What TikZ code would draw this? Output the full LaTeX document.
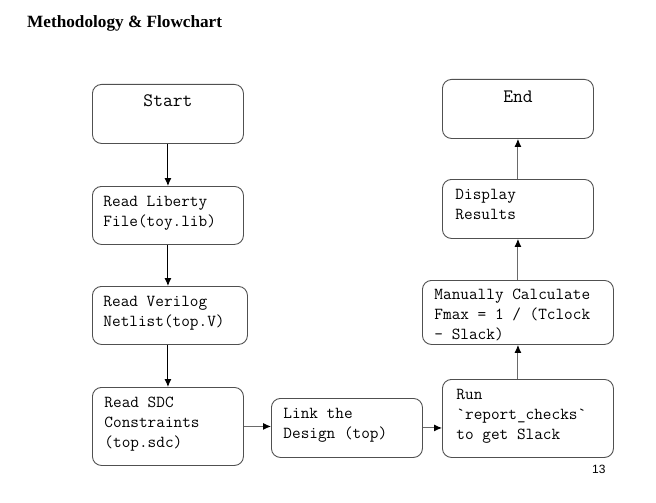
\documentclass[tikz,border=0pt]{standalone}
\usepackage{xcolor}
\usepackage{fontspec}
\setmainfont{Liberation Serif}
\newfontfamily\pagefont{Liberation Sans}
\usepackage{tikz}
\usetikzlibrary{shapes,arrows.meta}

\definecolor{boxgray}{HTML}{505050}
\definecolor{linegray}{HTML}{6A6A6A}

\tikzset{
  stepbox/.style={rectangle, draw=boxgray, line width=0.9pt, rounded corners=9pt, anchor=north west, inner ysep=0pt, align=flush left, font=\ttfamily\fontsize{16.8}{20}\selectfont},
  endbox/.style={stepbox, inner xsep=0pt, align=center, font=\ttfamily\fontsize{19}{20}\selectfont},
  flow/.style={line width=1pt, -{Latex[length=8pt,width=7pt,color=black]}}
}

\begin{document}
\begin{tikzpicture}[x=1pt, y=-1pt]
\useasboundingbox (0,0) rectangle (656,503);

\node (title) [anchor=base west, inner sep=0pt, font=\bfseries\fontsize{17.2}{20}\selectfont] at (27,28) {Methodology \& Flowchart};

\node (start) [endbox, text width=151pt, text height=22pt, text depth=37pt] at (92,84) {Start};
\node (lib) [stepbox, inner xsep=11pt, text width=129pt, text height=20pt, text depth=38pt] at (92,186) {Read Liberty\\File(toy.lib)};
\node (ver) [stepbox, inner xsep=11pt, text width=133pt, text height=20pt, text depth=38pt] at (92,286) {Read Verilog\\Netlist(top.V)};
\node (sdc) [stepbox, inner xsep=12pt, text width=127pt, text height=20pt, text depth=58pt] at (92,387) {Read SDC\\Constraints\\(top.sdc)};
\node (link) [stepbox, inner xsep=12pt, text width=127pt, text height=20pt, text depth=39pt] at (271,398) {Link the\\Design (top)};
\node (run) [stepbox, inner xsep=14pt, text width=143pt, text height=20pt, text depth=58pt] at (442,379) {Run\\`report\_checks`\\to get Slack};
\node (calc) [stepbox, inner xsep=12pt, text width=167pt, text height=19pt, text depth=45pt] at (422,280) {Manually Calculate\\Fmax = 1 / (Tclock\\- Slack)};
\node (disp) [stepbox, inner xsep=13pt, text width=125pt, text height=20pt, text depth=39pt] at (442,179) {Display\\Results};
\node (end) [endbox, text width=151pt, text height=23pt, text depth=36pt] at (442,79) {End};

\node (page) [anchor=base west, inner sep=0pt, font=\pagefont\fontsize{12}{14}\selectfont] at (592,473) {13};

\draw [flow] (start) -- (lib);
\draw [flow] (lib) -- (lib |- ver.north);
\draw [flow] (ver.south -| lib) -- (sdc);
\draw [flow, linegray] (sdc) -- (sdc -| link.west);
\draw [flow, linegray] (link) -- (link -| run.west);
\draw [flow, linegray] (calc |- run.north) -- (calc);
\draw [flow, linegray] (calc) -- (disp);
\draw [flow, linegray] (disp) -- (end);
\end{tikzpicture}
\end{document}
